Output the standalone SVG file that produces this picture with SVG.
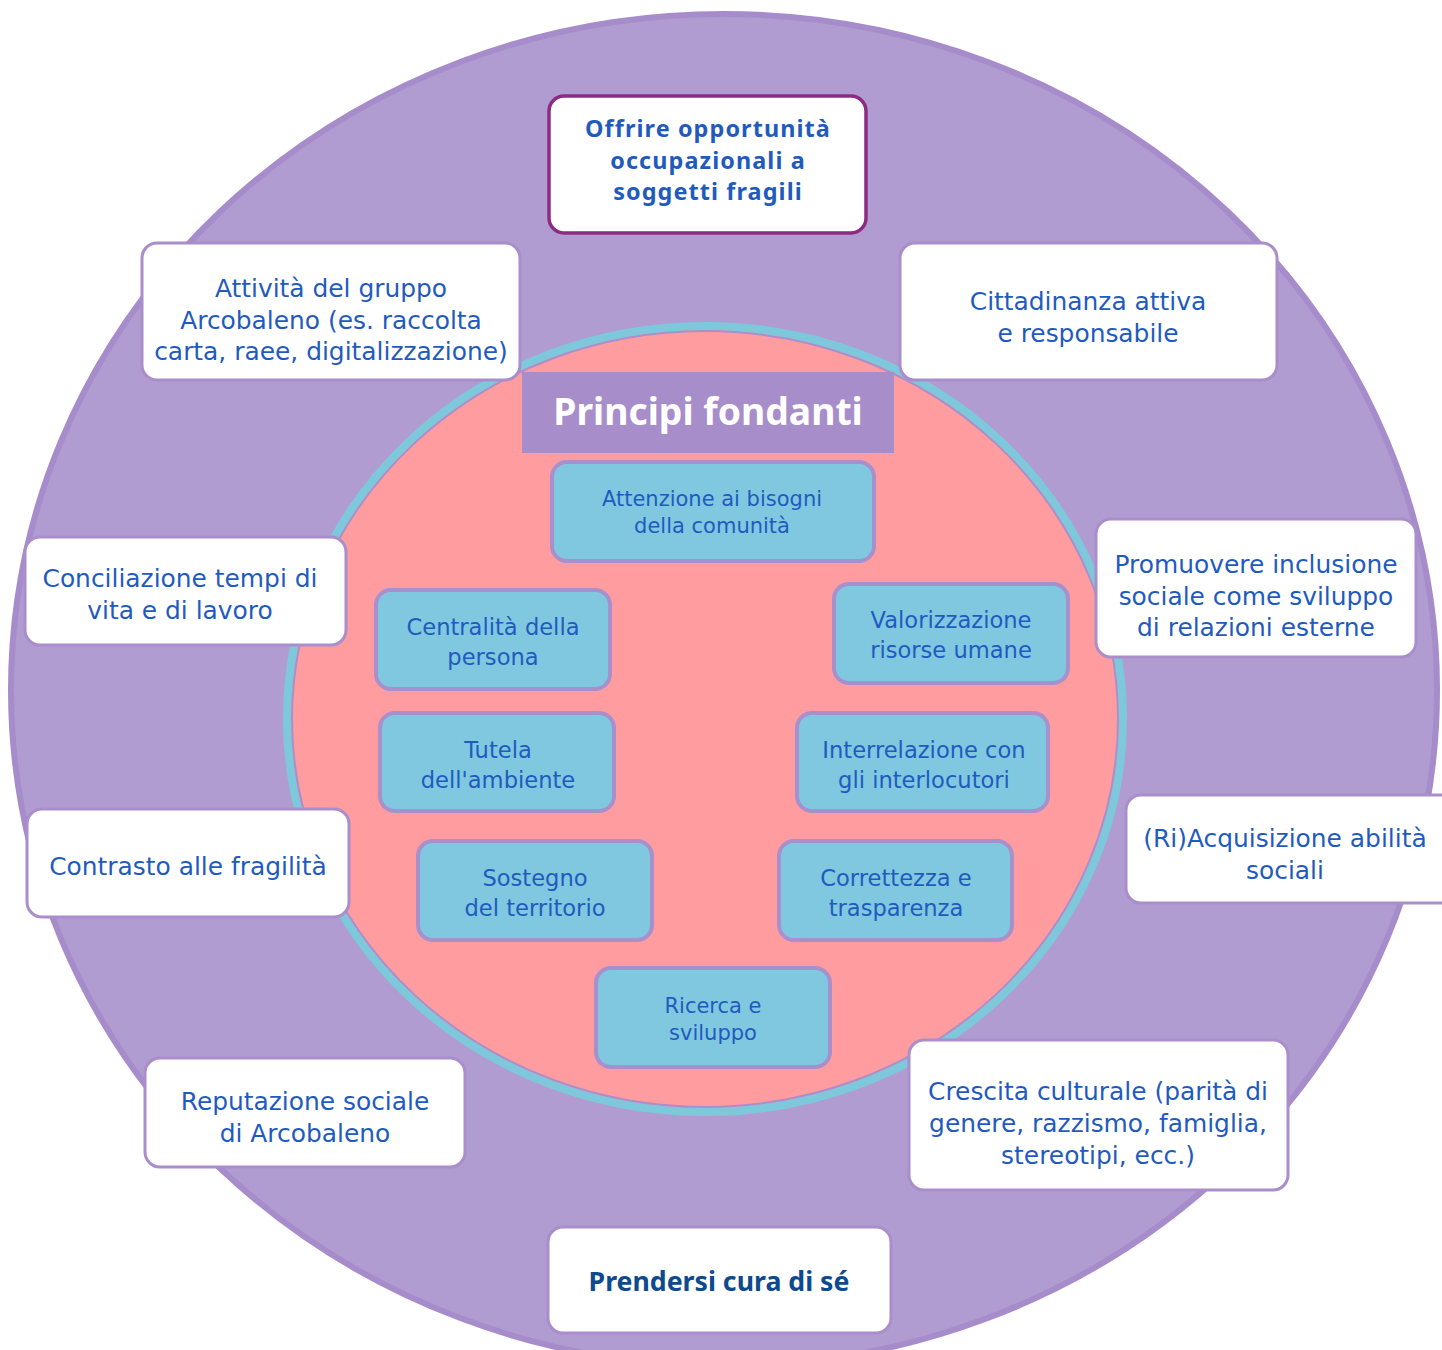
<svg xmlns="http://www.w3.org/2000/svg" width="1442" height="1350" viewBox="0 0 1442 1350">
<style>
text { font-family: "DejaVu Sans", "Noto Sans", sans-serif; text-anchor: middle; }
.nb { font-family: "Noto Sans", "Open Sans", sans-serif; font-weight: bold; }
.w { fill: #ffffff; stroke: #a98ecb; stroke-width: 3; }
.wt { font-size: 24.9px; fill: #1f5bbf; }
.ob { font-family: "Noto Sans", "Open Sans", sans-serif; font-size: 23.4px; letter-spacing: 1.1px; fill: #1f5bbf; font-weight: bold; }
.b { fill: #80c8e0; stroke: #a890cc; stroke-width: 4; }
.bt { font-size: 22.6px; fill: #1f5bbf; }
.bs { font-size: 21px; fill: #1f5bbf; }
</style>
<rect width="1442" height="1350" fill="#ffffff"/>
<g id="outer">
<ellipse cx="724" cy="690" rx="713" ry="676" fill="#b09cd0" stroke="#a68cca" stroke-width="6"/>
</g>
<g id="inner">
<ellipse cx="705" cy="719" rx="418" ry="393" fill="#ff9c9f" stroke="#7ec8dc" stroke-width="8"/>
<ellipse cx="705" cy="719" rx="413" ry="388" fill="none" stroke="#a890cc" stroke-width="2"/>
</g>
<g id="title">
<rect x="522" y="372" width="372" height="81" fill="#a78ecb"/>
<text class="nb" x="708" y="425" font-size="37.3" fill="#ffffff">Principi fondanti</text>
</g>
<g id="n-attenzione">
<rect class="b" x="552" y="462" width="322" height="99" rx="15"/>
<text class="bs" x="712" y="506">Attenzione ai bisogni</text>
<text class="bs" x="712" y="533">della comunità</text>
</g>
<g id="n-centralita">
<rect class="b" x="376" y="590" width="234" height="99" rx="15"/>
<text class="bt" x="493" y="635">Centralità della</text>
<text class="bt" x="493" y="665">persona</text>
</g>
<g id="n-valorizzazione">
<rect class="b" x="834" y="584" width="234" height="99" rx="15"/>
<text class="bt" x="951" y="628">Valorizzazione</text>
<text class="bt" x="951" y="658">risorse umane</text>
</g>
<g id="n-tutela">
<rect class="b" x="380" y="713" width="234" height="98" rx="15"/>
<text class="bt" x="498" y="758">Tutela</text>
<text class="bt" x="498" y="788">dell'ambiente</text>
</g>
<g id="n-interrelazione">
<rect class="b" x="797" y="713" width="251" height="98" rx="15"/>
<text class="bt" x="924" y="758">Interrelazione con</text>
<text class="bt" x="924" y="788">gli interlocutori</text>
</g>
<g id="n-sostegno">
<rect class="b" x="418" y="841" width="234" height="99" rx="15"/>
<text class="bt" x="535" y="886">Sostegno</text>
<text class="bt" x="535" y="916">del territorio</text>
</g>
<g id="n-correttezza">
<rect class="b" x="779" y="841" width="233" height="99" rx="15"/>
<text class="bt" x="896" y="886">Correttezza e</text>
<text class="bt" x="896" y="916">trasparenza</text>
</g>
<g id="n-ricerca">
<rect class="b" x="596" y="968" width="234" height="99" rx="15"/>
<text class="bs" x="713" y="1013">Ricerca e</text>
<text class="bs" x="713" y="1040">sviluppo</text>
</g>
<g id="n-offrire">
<rect x="549" y="96" width="317" height="137" rx="15" fill="#ffffff" stroke="#8b2c82" stroke-width="3.5"/>
<text class="ob" x="708" y="137">Offrire opportunità</text>
<text class="ob" x="708" y="169">occupazionali a</text>
<text class="ob" x="708" y="200">soggetti fragili</text>
</g>
<g id="n-attivita">
<rect class="w" x="142" y="243" width="378" height="137" rx="15"/>
<text class="wt" x="331" y="297">Attività del gruppo</text>
<text class="wt" x="331" y="329">Arcobaleno (es. raccolta</text>
<text class="wt" x="331" y="360">carta, raee, digitalizzazione)</text>
</g>
<g id="n-cittadinanza">
<rect class="w" x="900" y="243" width="377" height="137" rx="15"/>
<text class="wt" x="1088" y="310">Cittadinanza attiva</text>
<text class="wt" x="1088" y="342">e responsabile</text>
</g>
<g id="n-conciliazione">
<rect class="w" x="25" y="537" width="321" height="108" rx="15"/>
<text class="wt" x="180" y="587">Conciliazione tempi di</text>
<text class="wt" x="180" y="619">vita e di lavoro</text>
</g>
<g id="n-promuovere">
<rect class="w" x="1096" y="519" width="320" height="138" rx="15"/>
<text class="wt" x="1256" y="573">Promuovere inclusione</text>
<text class="wt" x="1256" y="605">sociale come sviluppo</text>
<text class="wt" x="1256" y="636">di relazioni esterne</text>
</g>
<g id="n-contrasto">
<rect class="w" x="27" y="809" width="322" height="108" rx="15"/>
<text class="wt" x="188" y="875">Contrasto alle fragilità</text>
</g>
<g id="n-riacquisizione">
<rect class="w" x="1126" y="795" width="330" height="108" rx="15"/>
<text class="wt" x="1285" y="847">(Ri)Acquisizione abilità</text>
<text class="wt" x="1285" y="879">sociali</text>
</g>
<g id="n-reputazione">
<rect class="w" x="145" y="1058" width="320" height="109" rx="15"/>
<text class="wt" x="305" y="1110">Reputazione sociale</text>
<text class="wt" x="305" y="1142">di Arcobaleno</text>
</g>
<g id="n-crescita">
<rect class="w" x="909" y="1040" width="379" height="150" rx="15"/>
<text class="wt" x="1098" y="1100">Crescita culturale (parità di</text>
<text class="wt" x="1098" y="1132">genere, razzismo, famiglia,</text>
<text class="wt" x="1098" y="1164">stereotipi, ecc.)</text>
</g>
<g id="n-prendersi">
<rect class="w" x="548" y="1227" width="343" height="106" rx="15"/>
<text class="nb" x="719" y="1291" font-size="26.7" fill="#0d4a8e">Prendersi cura di sé</text>
</g>
</svg>
